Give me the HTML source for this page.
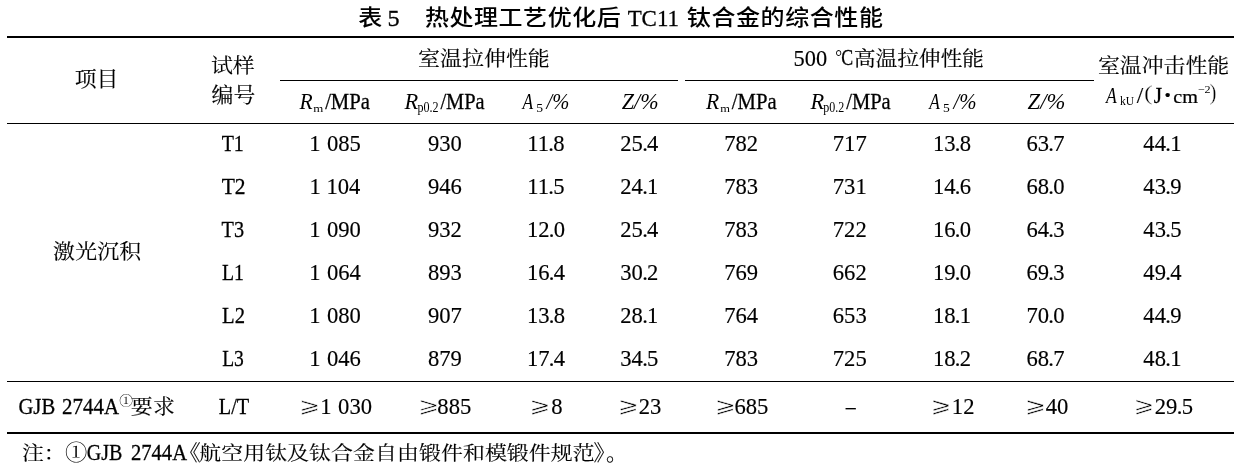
<!DOCTYPE html>
<html><head><meta charset="utf-8"><title>表5 热处理工艺优化后TC11钛合金的综合性能</title>
<style>
html,body{margin:0;padding:0;background:#fff;}
body{width:1237px;height:466px;overflow:hidden;}
svg{display:block;}
text{fill:#000;}
</style></head><body>
<svg width="1237" height="466" viewBox="0 0 1237 466">
<rect width="1237" height="466" fill="#fff"/>
<rect x="7" y="36" width="1227" height="2" fill="#000"/>
<rect x="280" y="80" width="398" height="1" fill="#000"/>
<rect x="685" y="80" width="409" height="1" fill="#000"/>
<rect x="7" y="123" width="1227" height="1" fill="#000"/>
<rect x="7" y="381" width="1227" height="1" fill="#000"/>
<rect x="7" y="432" width="1227" height="2" fill="#000"/>
<text x="358.15" y="24.83" transform="matrix(1 0 0 0.8990 0 2.508)" style="font-family:'Liberation Sans', 'Noto Sans CJK SC', sans-serif;font-size:24px;font-weight:500">表</text>
<text x="387.61" y="25.53" textLength="12.12" lengthAdjust="spacingAndGlyphs" style="font-family:'Liberation Serif', serif;font-size:24px;stroke:#000;stroke-width:0.3px">5</text>
<text x="424.93" y="24.56" transform="matrix(1 0 0 0.8956 0 2.563)" style="font-family:'Liberation Sans', 'Noto Sans CJK SC', sans-serif;font-size:24px;letter-spacing:0.560px;font-weight:500">热处理工艺优化后</text>
<text x="627.63" y="25.80" textLength="51.30" lengthAdjust="spacingAndGlyphs" style="font-family:'Liberation Serif', serif;font-size:24px;stroke:#000;stroke-width:0.3px">TC11</text>
<text x="686.82" y="24.91" transform="matrix(1 0 0 0.9127 0 2.175)" style="font-family:'Liberation Sans', 'Noto Sans CJK SC', sans-serif;font-size:24px;letter-spacing:0.592px;font-weight:500">钛合金的综合性能</text>
<text x="74.73" y="85.66" transform="matrix(1 0 0 0.9528 0 4.042)" style="font-family:'Liberation Serif', 'Noto Serif CJK SC', serif;font-size:21.9px;stroke:#000;stroke-width:0.15px">项目</text>
<text x="210.91" y="72.57" transform="matrix(1 0 0 0.9468 0 3.862)" style="font-family:'Liberation Serif', 'Noto Serif CJK SC', serif;font-size:21.9px;stroke:#000;stroke-width:0.15px">试样</text>
<text x="211.60" y="101.81" transform="matrix(1 0 0 0.9544 0 4.644)" style="font-family:'Liberation Serif', 'Noto Serif CJK SC', serif;font-size:21.9px;stroke:#000;stroke-width:0.15px">编号</text>
<text x="417.95" y="65.64" transform="matrix(1 0 0 0.9515 0 3.182)" style="font-family:'Liberation Serif', 'Noto Serif CJK SC', serif;font-size:21.9px;letter-spacing:0.100px;stroke:#000;stroke-width:0.15px">室温拉伸性能</text>
<text x="793.58" y="65.62" textLength="33.53" lengthAdjust="spacingAndGlyphs" style="font-family:'Liberation Serif', serif;font-size:22.6px;stroke:#000;stroke-width:0.15px">500</text>
<text x="835.29" y="62.60" textLength="6.83" lengthAdjust="spacingAndGlyphs" transform="matrix(1 0 0 0.7915 0 13.050)" style="font-family:'Liberation Serif', serif;font-size:22.6px">°</text>
<text x="841.20" y="64.51" textLength="11.90" lengthAdjust="spacingAndGlyphs" style="font-family:'Liberation Serif', serif;font-size:22.6px;stroke:#000;stroke-width:0.28px">C</text>
<text x="853.86" y="65.64" transform="matrix(1 0 0 0.9358 0 4.216)" style="font-family:'Liberation Serif', 'Noto Serif CJK SC', serif;font-size:21.9px;letter-spacing:-0.234px;stroke:#000;stroke-width:0.15px">高温拉伸性能</text>
<text x="1097.91" y="72.76" transform="matrix(1 0 0 0.9120 0 6.401)" style="font-family:'Liberation Serif', 'Noto Serif CJK SC', serif;font-size:21.9px;letter-spacing:-0.007px;stroke:#000;stroke-width:0.15px">室温冲击性能</text>
<text x="299.38" y="108.50" textLength="13.17" lengthAdjust="spacingAndGlyphs" style="font-family:'Liberation Serif', serif;font-size:22.6px;font-style:italic">R</text>
<text x="313.36" y="111.80" textLength="10.05" lengthAdjust="spacingAndGlyphs" transform="matrix(1 0 0 0.9087 0 10.204)" style="font-family:'Liberation Serif', serif;font-size:11.5px">m</text>
<text x="325.13" y="108.87" textLength="44.84" lengthAdjust="spacingAndGlyphs" style="font-family:'Liberation Serif', serif;font-size:22.6px;stroke:#000;stroke-width:0.28px">/MPa</text>
<text x="404.57" y="108.56" textLength="13.70" lengthAdjust="spacingAndGlyphs" style="font-family:'Liberation Serif', serif;font-size:22.6px;font-style:italic">R</text>
<text x="417.43" y="111.66" textLength="21.13" lengthAdjust="spacingAndGlyphs" transform="matrix(1 0 0 1.2124 0 -23.718)" style="font-family:'Liberation Serif', serif;font-size:11.5px">p0.2</text>
<text x="440.42" y="108.87" textLength="44.17" lengthAdjust="spacingAndGlyphs" style="font-family:'Liberation Serif', serif;font-size:22.6px;stroke:#000;stroke-width:0.28px">/MPa</text>
<text x="522.50" y="108.56" textLength="10.63" lengthAdjust="spacingAndGlyphs" style="font-family:'Liberation Serif', serif;font-size:22.6px;font-style:italic">A</text>
<text x="536.17" y="111.54" textLength="6.82" lengthAdjust="spacingAndGlyphs" transform="matrix(1 0 0 1.0110 0 -1.224)" style="font-family:'Liberation Serif', serif;font-size:11.5px">5</text>
<text x="546.56" y="108.62" textLength="22.82" lengthAdjust="spacingAndGlyphs" style="font-family:'Liberation Serif', serif;font-size:22.6px;font-style:italic">/%</text>
<text x="621.78" y="108.72" textLength="36.75" lengthAdjust="spacingAndGlyphs" style="font-family:'Liberation Serif', serif;font-size:22.6px;font-style:italic">Z/%</text>
<text x="706.03" y="108.50" textLength="13.22" lengthAdjust="spacingAndGlyphs" style="font-family:'Liberation Serif', serif;font-size:22.6px;font-style:italic">R</text>
<text x="720.16" y="111.71" textLength="9.71" lengthAdjust="spacingAndGlyphs" transform="matrix(1 0 0 0.8257 0 19.468)" style="font-family:'Liberation Serif', serif;font-size:11.5px">m</text>
<text x="731.81" y="108.50" textLength="44.82" lengthAdjust="spacingAndGlyphs" style="font-family:'Liberation Serif', serif;font-size:22.6px;stroke:#000;stroke-width:0.28px">/MPa</text>
<text x="810.41" y="108.56" textLength="13.70" lengthAdjust="spacingAndGlyphs" style="font-family:'Liberation Serif', serif;font-size:22.6px;font-style:italic">R</text>
<text x="823.30" y="111.57" textLength="21.01" lengthAdjust="spacingAndGlyphs" transform="matrix(1 0 0 1.1973 0 -22.017)" style="font-family:'Liberation Serif', serif;font-size:11.5px">p0.2</text>
<text x="846.23" y="108.50" textLength="44.46" lengthAdjust="spacingAndGlyphs" style="font-family:'Liberation Serif', serif;font-size:22.6px;stroke:#000;stroke-width:0.28px">/MPa</text>
<text x="929.22" y="108.59" textLength="10.62" lengthAdjust="spacingAndGlyphs" style="font-family:'Liberation Serif', serif;font-size:22.6px;font-style:italic">A</text>
<text x="943.13" y="111.91" textLength="6.79" lengthAdjust="spacingAndGlyphs" transform="matrix(1 0 0 1.0169 0 -1.891)" style="font-family:'Liberation Serif', serif;font-size:11.5px">5</text>
<text x="953.45" y="108.81" textLength="23.08" lengthAdjust="spacingAndGlyphs" style="font-family:'Liberation Serif', serif;font-size:22.6px;font-style:italic">/%</text>
<text x="1027.60" y="108.72" textLength="37.81" lengthAdjust="spacingAndGlyphs" style="font-family:'Liberation Serif', serif;font-size:22.6px;font-style:italic">Z/%</text>
<text x="1106.07" y="102.50" textLength="10.81" lengthAdjust="spacingAndGlyphs" style="font-family:'Liberation Serif', serif;font-size:22.6px;font-style:italic">A</text>
<text x="1119.91" y="104.80" textLength="14.14" lengthAdjust="spacingAndGlyphs" transform="matrix(1 0 0 1.0215 0 -2.250)" style="font-family:'Liberation Serif', serif;font-size:11.5px">kU</text>
<text x="1136.80" y="102.91" textLength="6.49" lengthAdjust="spacingAndGlyphs" style="font-family:'Liberation Serif', serif;font-size:22.6px;stroke:#000;stroke-width:0.15px">/</text>
<text x="1143.92" y="99.75" textLength="8.57" lengthAdjust="spacingAndGlyphs" transform="matrix(1 0 0 0.9453 0 5.454)" style="font-family:'Liberation Serif', serif;font-size:22.6px;stroke:#fff;stroke-width:0.3px">(</text>
<text x="1153.83" y="102.50" textLength="8.34" lengthAdjust="spacingAndGlyphs" style="font-family:'Liberation Serif', serif;font-size:22.6px;stroke:#000;stroke-width:0.28px">J</text>
<text x="1164.62" y="100.88" textLength="6.33" lengthAdjust="spacingAndGlyphs" transform="matrix(1 0 0 0.6935 0 30.914)" style="font-family:'Liberation Serif', serif;font-size:22.6px;stroke:#000;stroke-width:0.15px">•</text>
<text x="1173.27" y="102.94" textLength="24.66" lengthAdjust="spacingAndGlyphs" transform="matrix(1 0 0 0.8042 0 20.158)" style="font-family:'Liberation Serif', serif;font-size:22.6px;stroke:#000;stroke-width:0.28px">cm</text>
<text x="1197.72" y="92.67" textLength="12.83" lengthAdjust="spacingAndGlyphs" transform="matrix(1 0 0 0.9314 0 6.362)" style="font-family:'Liberation Serif', serif;font-size:11.5px">−2</text>
<text x="1209.57" y="99.77" textLength="6.93" lengthAdjust="spacingAndGlyphs" transform="matrix(1 0 0 0.9822 0 1.775)" style="font-family:'Liberation Serif', serif;font-size:22.6px;stroke:#fff;stroke-width:0.3px">)</text>
<text x="221.68" y="151.00" textLength="22.17" lengthAdjust="spacingAndGlyphs" style="font-family:'Liberation Serif', serif;font-size:22.6px;stroke:#000;stroke-width:0.28px">T1</text>
<text x="221.70" y="194.04" textLength="23.91" lengthAdjust="spacingAndGlyphs" style="font-family:'Liberation Serif', serif;font-size:22.6px;stroke:#000;stroke-width:0.28px">T2</text>
<text x="221.62" y="237.08" textLength="22.49" lengthAdjust="spacingAndGlyphs" style="font-family:'Liberation Serif', serif;font-size:22.6px;stroke:#000;stroke-width:0.28px">T3</text>
<text x="221.96" y="280.12" textLength="21.92" lengthAdjust="spacingAndGlyphs" style="font-family:'Liberation Serif', serif;font-size:22.6px;stroke:#000;stroke-width:0.28px">L1</text>
<text x="222.11" y="323.16" textLength="22.96" lengthAdjust="spacingAndGlyphs" style="font-family:'Liberation Serif', serif;font-size:22.6px;stroke:#000;stroke-width:0.28px">L2</text>
<text x="222.14" y="366.20" textLength="21.71" lengthAdjust="spacingAndGlyphs" style="font-family:'Liberation Serif', serif;font-size:22.6px;stroke:#000;stroke-width:0.28px">L3</text>
<text x="334.98" y="151.00" text-anchor="middle" style="font-family:'Liberation Serif', serif;font-size:22.6px;stroke:#000;stroke-width:0.15px"><tspan>1</tspan><tspan dx="6.5">085</tspan></text>
<text x="444.96" y="151.00" text-anchor="middle" style="font-family:'Liberation Serif', serif;font-size:22.6px;stroke:#000;stroke-width:0.15px">930</text>
<text x="545.96" y="151.00" text-anchor="middle" style="font-family:'Liberation Serif', serif;font-size:22.6px;stroke:#000;stroke-width:0.15px"><tspan>11</tspan><tspan dx="-0.7">.</tspan><tspan dx="-0.7">8</tspan></text>
<text x="639.32" y="151.00" text-anchor="middle" style="font-family:'Liberation Serif', serif;font-size:22.6px;stroke:#000;stroke-width:0.15px"><tspan>25</tspan><tspan dx="-0.7">.</tspan><tspan dx="-0.7">4</tspan></text>
<text x="741.08" y="151.00" text-anchor="middle" style="font-family:'Liberation Serif', serif;font-size:22.6px;stroke:#000;stroke-width:0.15px">782</text>
<text x="849.73" y="151.00" text-anchor="middle" style="font-family:'Liberation Serif', serif;font-size:22.6px;stroke:#000;stroke-width:0.15px">717</text>
<text x="952.05" y="151.00" text-anchor="middle" style="font-family:'Liberation Serif', serif;font-size:22.6px;stroke:#000;stroke-width:0.15px"><tspan>13</tspan><tspan dx="-0.7">.</tspan><tspan dx="-0.7">8</tspan></text>
<text x="1045.46" y="151.00" text-anchor="middle" style="font-family:'Liberation Serif', serif;font-size:22.6px;stroke:#000;stroke-width:0.15px"><tspan>63</tspan><tspan dx="-0.7">.</tspan><tspan dx="-0.7">7</tspan></text>
<text x="1162.43" y="151.00" text-anchor="middle" style="font-family:'Liberation Serif', serif;font-size:22.6px;stroke:#000;stroke-width:0.15px"><tspan>44</tspan><tspan dx="-0.7">.</tspan><tspan dx="-0.7">1</tspan></text>
<text x="53.10" y="258.89" transform="matrix(1 0 0 0.9270 0 18.910)" style="font-family:'Liberation Serif', 'Noto Serif CJK SC', serif;font-size:21.9px;letter-spacing:0.175px;stroke:#000;stroke-width:0.15px">激光沉积</text>
<text x="18.43" y="413.78" textLength="36.77" lengthAdjust="spacingAndGlyphs" style="font-family:'Liberation Serif', serif;font-size:22.6px;stroke:#000;stroke-width:0.28px">GJB</text>
<text x="62.09" y="413.76" textLength="56.98" lengthAdjust="spacingAndGlyphs" style="font-family:'Liberation Serif', serif;font-size:22.6px;stroke:#000;stroke-width:0.28px">2744A</text>
<text x="119.34" y="404.83" textLength="13.77" lengthAdjust="spacingAndGlyphs" transform="matrix(1 0 0 0.9950 0 2.027)" style="font-family:'Liberation Serif', 'Noto Serif CJK SC', serif;font-size:13px">①</text>
<text x="130.71" y="413.81" transform="matrix(1 0 0 0.9271 0 30.173)" style="font-family:'Liberation Serif', 'Noto Serif CJK SC', serif;font-size:21.9px;letter-spacing:0.494px;stroke:#000;stroke-width:0.15px">要求</text>
<text x="218.78" y="413.64" textLength="30.38" lengthAdjust="spacingAndGlyphs" style="font-family:'Liberation Serif', serif;font-size:22.6px;stroke:#000;stroke-width:0.28px">L/T</text>
<text x="299.73" y="412.87" textLength="19.90" lengthAdjust="spacingAndGlyphs" transform="matrix(1 0 0 0.8965 0 42.735)" style="font-family:'DejaVu Math TeX Gyre', 'DejaVu Sans', sans-serif;font-size:22px;stroke:#fff;stroke-width:0.6px">⩾</text>
<text x="320.29" y="413.50" style="font-family:'Liberation Serif', serif;font-size:22.6px;stroke:#000;stroke-width:0.15px"><tspan>1</tspan><tspan dx="6.5">030</tspan></text>
<text x="418.39" y="412.71" textLength="19.84" lengthAdjust="spacingAndGlyphs" transform="matrix(1 0 0 0.9330 0 27.662)" style="font-family:'DejaVu Math TeX Gyre', 'DejaVu Sans', sans-serif;font-size:22px;stroke:#fff;stroke-width:0.6px">⩾</text>
<text x="437.35" y="413.50" style="font-family:'Liberation Serif', serif;font-size:22.6px;stroke:#000;stroke-width:0.15px">885</text>
<text x="530.34" y="412.84" textLength="19.88" lengthAdjust="spacingAndGlyphs" transform="matrix(1 0 0 0.9167 0 34.407)" style="font-family:'DejaVu Math TeX Gyre', 'DejaVu Sans', sans-serif;font-size:22px;stroke:#fff;stroke-width:0.6px">⩾</text>
<text x="551.30" y="413.60" style="font-family:'Liberation Serif', serif;font-size:22.6px;stroke:#000;stroke-width:0.15px">8</text>
<text x="618.09" y="413.00" textLength="19.92" lengthAdjust="spacingAndGlyphs" transform="matrix(1 0 0 0.9363 0 26.310)" style="font-family:'DejaVu Math TeX Gyre', 'DejaVu Sans', sans-serif;font-size:22px;stroke:#fff;stroke-width:0.6px">⩾</text>
<text x="638.65" y="413.50" style="font-family:'Liberation Serif', serif;font-size:22.6px;stroke:#000;stroke-width:0.15px">23</text>
<text x="715.53" y="412.73" textLength="19.99" lengthAdjust="spacingAndGlyphs" transform="matrix(1 0 0 0.9148 0 35.150)" style="font-family:'DejaVu Math TeX Gyre', 'DejaVu Sans', sans-serif;font-size:22px;stroke:#fff;stroke-width:0.6px">⩾</text>
<text x="734.48" y="413.50" style="font-family:'Liberation Serif', serif;font-size:22.6px;stroke:#000;stroke-width:0.15px">685</text>
<text x="845.83" y="413.83" textLength="9.96" lengthAdjust="spacingAndGlyphs" style="font-family:'Liberation Serif', serif;font-size:22.6px;stroke:#000;stroke-width:0.15px">–</text>
<text x="931.25" y="412.68" textLength="19.67" lengthAdjust="spacingAndGlyphs" transform="matrix(1 0 0 0.9093 0 37.436)" style="font-family:'DejaVu Math TeX Gyre', 'DejaVu Sans', sans-serif;font-size:22px;stroke:#fff;stroke-width:0.6px">⩾</text>
<text x="951.84" y="413.50" style="font-family:'Liberation Serif', serif;font-size:22.6px;stroke:#000;stroke-width:0.15px">12</text>
<text x="1025.39" y="412.65" textLength="19.98" lengthAdjust="spacingAndGlyphs" transform="matrix(1 0 0 0.9109 0 36.766)" style="font-family:'DejaVu Math TeX Gyre', 'DejaVu Sans', sans-serif;font-size:22px;stroke:#fff;stroke-width:0.6px">⩾</text>
<text x="1045.77" y="413.52" style="font-family:'Liberation Serif', serif;font-size:22.6px;stroke:#000;stroke-width:0.15px">40</text>
<text x="1133.96" y="412.90" textLength="19.64" lengthAdjust="spacingAndGlyphs" transform="matrix(1 0 0 0.9529 0 19.437)" style="font-family:'DejaVu Math TeX Gyre', 'DejaVu Sans', sans-serif;font-size:22px;stroke:#fff;stroke-width:0.6px">⩾</text>
<text x="1154.79" y="413.50" style="font-family:'Liberation Serif', serif;font-size:22.6px;stroke:#000;stroke-width:0.15px"><tspan>29</tspan><tspan dx="-0.7">.</tspan><tspan dx="-0.7">5</tspan></text>
<text x="21.90" y="459.84" transform="matrix(1 0 0 0.8707 0 59.449)" style="font-family:'Liberation Serif', 'Noto Serif CJK SC', serif;font-size:21.9px;stroke:#000;stroke-width:0.15px">注：</text>
<text x="64.92" y="459.76" textLength="22.35" lengthAdjust="spacingAndGlyphs" transform="matrix(1 0 0 0.9825 0 8.060)" style="font-family:'Liberation Serif', 'Noto Serif CJK SC', serif;font-size:21.9px">①</text>
<text x="86.71" y="459.82" textLength="35.60" lengthAdjust="spacingAndGlyphs" style="font-family:'Liberation Serif', serif;font-size:22.6px;stroke:#000;stroke-width:0.28px">GJB</text>
<text x="130.97" y="459.80" textLength="56.06" lengthAdjust="spacingAndGlyphs" style="font-family:'Liberation Serif', serif;font-size:22.6px;stroke:#000;stroke-width:0.28px">2744A</text>
<text x="178.64" y="459.57" style="font-family:'Liberation Serif', 'Noto Serif CJK SC', serif;font-size:21.9px;stroke:#000;stroke-width:0.15px">《</text>
<text x="199.21" y="459.54" transform="matrix(1 0 0 0.8805 0 54.892)" style="font-family:'Liberation Serif', 'Noto Serif CJK SC', serif;font-size:21.9px;letter-spacing:0.085px;stroke:#000;stroke-width:0.15px">航空用钛及钛合金自由锻件和模锻件规范</text>
<text x="593.42" y="459.62" style="font-family:'Liberation Serif', 'Noto Serif CJK SC', serif;font-size:21.9px;stroke:#000;stroke-width:0.15px">》</text>
<text x="606.07" y="459.61" style="font-family:'Liberation Serif', 'Noto Serif CJK SC', serif;font-size:21.9px;stroke:#000;stroke-width:0.15px">。</text>
<text x="334.98" y="194.04" text-anchor="middle" style="font-family:'Liberation Serif', serif;font-size:22.6px;stroke:#000;stroke-width:0.15px"><tspan>1</tspan><tspan dx="6.5">104</tspan></text>
<text x="444.96" y="194.04" text-anchor="middle" style="font-family:'Liberation Serif', serif;font-size:22.6px;stroke:#000;stroke-width:0.15px">946</text>
<text x="545.96" y="194.04" text-anchor="middle" style="font-family:'Liberation Serif', serif;font-size:22.6px;stroke:#000;stroke-width:0.15px"><tspan>11</tspan><tspan dx="-0.7">.</tspan><tspan dx="-0.7">5</tspan></text>
<text x="639.32" y="194.04" text-anchor="middle" style="font-family:'Liberation Serif', serif;font-size:22.6px;stroke:#000;stroke-width:0.15px"><tspan>24</tspan><tspan dx="-0.7">.</tspan><tspan dx="-0.7">1</tspan></text>
<text x="741.08" y="194.04" text-anchor="middle" style="font-family:'Liberation Serif', serif;font-size:22.6px;stroke:#000;stroke-width:0.15px">783</text>
<text x="849.73" y="194.04" text-anchor="middle" style="font-family:'Liberation Serif', serif;font-size:22.6px;stroke:#000;stroke-width:0.15px">731</text>
<text x="952.05" y="194.04" text-anchor="middle" style="font-family:'Liberation Serif', serif;font-size:22.6px;stroke:#000;stroke-width:0.15px"><tspan>14</tspan><tspan dx="-0.7">.</tspan><tspan dx="-0.7">6</tspan></text>
<text x="1045.46" y="194.04" text-anchor="middle" style="font-family:'Liberation Serif', serif;font-size:22.6px;stroke:#000;stroke-width:0.15px"><tspan>68</tspan><tspan dx="-0.7">.</tspan><tspan dx="-0.7">0</tspan></text>
<text x="1162.43" y="194.04" text-anchor="middle" style="font-family:'Liberation Serif', serif;font-size:22.6px;stroke:#000;stroke-width:0.15px"><tspan>43</tspan><tspan dx="-0.7">.</tspan><tspan dx="-0.7">9</tspan></text>
<text x="334.98" y="237.08" text-anchor="middle" style="font-family:'Liberation Serif', serif;font-size:22.6px;stroke:#000;stroke-width:0.15px"><tspan>1</tspan><tspan dx="6.5">090</tspan></text>
<text x="444.96" y="237.08" text-anchor="middle" style="font-family:'Liberation Serif', serif;font-size:22.6px;stroke:#000;stroke-width:0.15px">932</text>
<text x="545.96" y="237.08" text-anchor="middle" style="font-family:'Liberation Serif', serif;font-size:22.6px;stroke:#000;stroke-width:0.15px"><tspan>12</tspan><tspan dx="-0.7">.</tspan><tspan dx="-0.7">0</tspan></text>
<text x="639.32" y="237.08" text-anchor="middle" style="font-family:'Liberation Serif', serif;font-size:22.6px;stroke:#000;stroke-width:0.15px"><tspan>25</tspan><tspan dx="-0.7">.</tspan><tspan dx="-0.7">4</tspan></text>
<text x="741.08" y="237.08" text-anchor="middle" style="font-family:'Liberation Serif', serif;font-size:22.6px;stroke:#000;stroke-width:0.15px">783</text>
<text x="849.73" y="237.08" text-anchor="middle" style="font-family:'Liberation Serif', serif;font-size:22.6px;stroke:#000;stroke-width:0.15px">722</text>
<text x="952.05" y="237.08" text-anchor="middle" style="font-family:'Liberation Serif', serif;font-size:22.6px;stroke:#000;stroke-width:0.15px"><tspan>16</tspan><tspan dx="-0.7">.</tspan><tspan dx="-0.7">0</tspan></text>
<text x="1045.46" y="237.08" text-anchor="middle" style="font-family:'Liberation Serif', serif;font-size:22.6px;stroke:#000;stroke-width:0.15px"><tspan>64</tspan><tspan dx="-0.7">.</tspan><tspan dx="-0.7">3</tspan></text>
<text x="1162.43" y="237.08" text-anchor="middle" style="font-family:'Liberation Serif', serif;font-size:22.6px;stroke:#000;stroke-width:0.15px"><tspan>43</tspan><tspan dx="-0.7">.</tspan><tspan dx="-0.7">5</tspan></text>
<text x="334.98" y="280.12" text-anchor="middle" style="font-family:'Liberation Serif', serif;font-size:22.6px;stroke:#000;stroke-width:0.15px"><tspan>1</tspan><tspan dx="6.5">064</tspan></text>
<text x="444.96" y="280.12" text-anchor="middle" style="font-family:'Liberation Serif', serif;font-size:22.6px;stroke:#000;stroke-width:0.15px">893</text>
<text x="545.96" y="280.12" text-anchor="middle" style="font-family:'Liberation Serif', serif;font-size:22.6px;stroke:#000;stroke-width:0.15px"><tspan>16</tspan><tspan dx="-0.7">.</tspan><tspan dx="-0.7">4</tspan></text>
<text x="639.32" y="280.12" text-anchor="middle" style="font-family:'Liberation Serif', serif;font-size:22.6px;stroke:#000;stroke-width:0.15px"><tspan>30</tspan><tspan dx="-0.7">.</tspan><tspan dx="-0.7">2</tspan></text>
<text x="741.08" y="280.12" text-anchor="middle" style="font-family:'Liberation Serif', serif;font-size:22.6px;stroke:#000;stroke-width:0.15px">769</text>
<text x="849.73" y="280.12" text-anchor="middle" style="font-family:'Liberation Serif', serif;font-size:22.6px;stroke:#000;stroke-width:0.15px">662</text>
<text x="952.05" y="280.12" text-anchor="middle" style="font-family:'Liberation Serif', serif;font-size:22.6px;stroke:#000;stroke-width:0.15px"><tspan>19</tspan><tspan dx="-0.7">.</tspan><tspan dx="-0.7">0</tspan></text>
<text x="1045.46" y="280.12" text-anchor="middle" style="font-family:'Liberation Serif', serif;font-size:22.6px;stroke:#000;stroke-width:0.15px"><tspan>69</tspan><tspan dx="-0.7">.</tspan><tspan dx="-0.7">3</tspan></text>
<text x="1162.43" y="280.12" text-anchor="middle" style="font-family:'Liberation Serif', serif;font-size:22.6px;stroke:#000;stroke-width:0.15px"><tspan>49</tspan><tspan dx="-0.7">.</tspan><tspan dx="-0.7">4</tspan></text>
<text x="334.98" y="323.16" text-anchor="middle" style="font-family:'Liberation Serif', serif;font-size:22.6px;stroke:#000;stroke-width:0.15px"><tspan>1</tspan><tspan dx="6.5">080</tspan></text>
<text x="444.96" y="323.16" text-anchor="middle" style="font-family:'Liberation Serif', serif;font-size:22.6px;stroke:#000;stroke-width:0.15px">907</text>
<text x="545.96" y="323.16" text-anchor="middle" style="font-family:'Liberation Serif', serif;font-size:22.6px;stroke:#000;stroke-width:0.15px"><tspan>13</tspan><tspan dx="-0.7">.</tspan><tspan dx="-0.7">8</tspan></text>
<text x="639.32" y="323.16" text-anchor="middle" style="font-family:'Liberation Serif', serif;font-size:22.6px;stroke:#000;stroke-width:0.15px"><tspan>28</tspan><tspan dx="-0.7">.</tspan><tspan dx="-0.7">1</tspan></text>
<text x="741.08" y="323.16" text-anchor="middle" style="font-family:'Liberation Serif', serif;font-size:22.6px;stroke:#000;stroke-width:0.15px">764</text>
<text x="849.73" y="323.16" text-anchor="middle" style="font-family:'Liberation Serif', serif;font-size:22.6px;stroke:#000;stroke-width:0.15px">653</text>
<text x="952.05" y="323.16" text-anchor="middle" style="font-family:'Liberation Serif', serif;font-size:22.6px;stroke:#000;stroke-width:0.15px"><tspan>18</tspan><tspan dx="-0.7">.</tspan><tspan dx="-0.7">1</tspan></text>
<text x="1045.46" y="323.16" text-anchor="middle" style="font-family:'Liberation Serif', serif;font-size:22.6px;stroke:#000;stroke-width:0.15px"><tspan>70</tspan><tspan dx="-0.7">.</tspan><tspan dx="-0.7">0</tspan></text>
<text x="1162.43" y="323.16" text-anchor="middle" style="font-family:'Liberation Serif', serif;font-size:22.6px;stroke:#000;stroke-width:0.15px"><tspan>44</tspan><tspan dx="-0.7">.</tspan><tspan dx="-0.7">9</tspan></text>
<text x="334.98" y="366.20" text-anchor="middle" style="font-family:'Liberation Serif', serif;font-size:22.6px;stroke:#000;stroke-width:0.15px"><tspan>1</tspan><tspan dx="6.5">046</tspan></text>
<text x="444.96" y="366.20" text-anchor="middle" style="font-family:'Liberation Serif', serif;font-size:22.6px;stroke:#000;stroke-width:0.15px">879</text>
<text x="545.96" y="366.20" text-anchor="middle" style="font-family:'Liberation Serif', serif;font-size:22.6px;stroke:#000;stroke-width:0.15px"><tspan>17</tspan><tspan dx="-0.7">.</tspan><tspan dx="-0.7">4</tspan></text>
<text x="639.32" y="366.20" text-anchor="middle" style="font-family:'Liberation Serif', serif;font-size:22.6px;stroke:#000;stroke-width:0.15px"><tspan>34</tspan><tspan dx="-0.7">.</tspan><tspan dx="-0.7">5</tspan></text>
<text x="741.08" y="366.20" text-anchor="middle" style="font-family:'Liberation Serif', serif;font-size:22.6px;stroke:#000;stroke-width:0.15px">783</text>
<text x="849.73" y="366.20" text-anchor="middle" style="font-family:'Liberation Serif', serif;font-size:22.6px;stroke:#000;stroke-width:0.15px">725</text>
<text x="952.05" y="366.20" text-anchor="middle" style="font-family:'Liberation Serif', serif;font-size:22.6px;stroke:#000;stroke-width:0.15px"><tspan>18</tspan><tspan dx="-0.7">.</tspan><tspan dx="-0.7">2</tspan></text>
<text x="1045.46" y="366.20" text-anchor="middle" style="font-family:'Liberation Serif', serif;font-size:22.6px;stroke:#000;stroke-width:0.15px"><tspan>68</tspan><tspan dx="-0.7">.</tspan><tspan dx="-0.7">7</tspan></text>
<text x="1162.43" y="366.20" text-anchor="middle" style="font-family:'Liberation Serif', serif;font-size:22.6px;stroke:#000;stroke-width:0.15px"><tspan>48</tspan><tspan dx="-0.7">.</tspan><tspan dx="-0.7">1</tspan></text>
</svg>
</body></html>
